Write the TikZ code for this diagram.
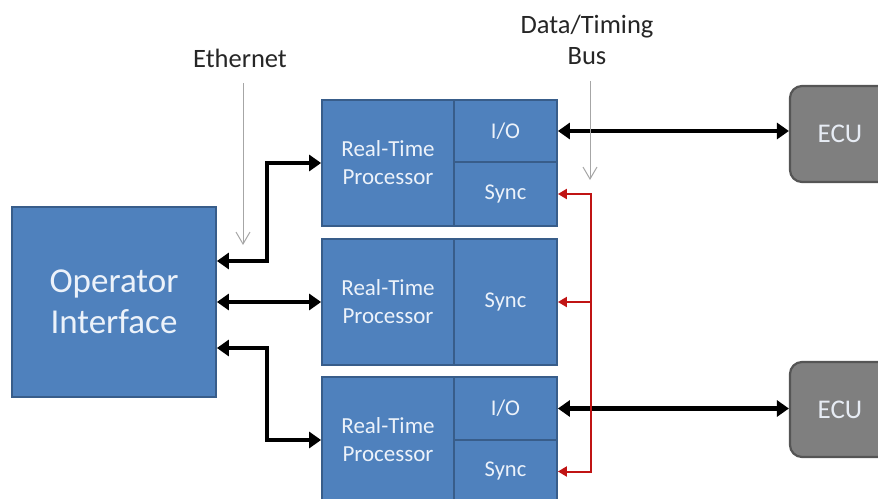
\documentclass[tikz,border=0pt]{standalone}
\usepackage{fontspec}
\setmainfont{Carlito}
\usetikzlibrary{arrows.meta,calc}
\definecolor{boxblue}{RGB}{79,129,189}
\definecolor{boxedge}{RGB}{56,93,138}
\definecolor{ecugray}{RGB}{127,127,127}
\definecolor{ecuedge}{RGB}{85,85,85}
\definecolor{busred}{RGB}{192,20,20}
\definecolor{lblgray}{RGB}{166,166,166}
\definecolor{txtlight}{RGB}{236,242,250}
\definecolor{lbltext}{RGB}{38,38,38}
\begin{document}
\begin{tikzpicture}[x=1pt,y=-1pt,
  bluebox/.style={draw=boxedge, fill=boxblue, line width=1.8pt, inner sep=0pt,
    text=txtlight, align=center},
  rtbox/.style={bluebox, minimum width=132pt, font=\fontsize{23}{28}\selectfont},
  subbox/.style={bluebox, minimum width=103pt, font=\fontsize{22.5}{26}\selectfont},
  ecubox/.style={draw=ecuedge, fill=ecugray, line width=2.2pt, rounded corners=12pt,
    minimum width=100pt, text=txtlight!95!gray, font=\fontsize{27}{30}\selectfont},
  lbl/.style={inner sep=0pt, text=lbltext, align=center, font=\fontsize{26.5}{31}\selectfont},
  tipblack/.tip={Triangle[length=12pt,width=16pt]},
  tipred/.tip={Triangle[length=9pt,width=10pt]},
  link/.style={line width=4.5pt, black, tipblack-tipblack},
  redline/.style={line width=2pt, busred},
  lblarrow/.style={draw=lblgray, line width=1pt, -{Straight Barb[length=12pt,width=14pt]}}
]
\useasboundingbox (0,0) rectangle (878,498);

% Operator interface
\node[bluebox, minimum width=204pt, minimum height=190pt,
      font=\fontsize{35}{41}\selectfont] (oi) at (114,302) {Operator\\Interface};

% Processor 1
\node[rtbox, minimum height=126pt] (p1rt) at (388,163) {Real-Time\\Processor};
\node[subbox, minimum height=62pt] (p1io) at (505.5,131) {I/O};
\node[subbox, minimum height=64pt] (p1sync) at (505.5,194) {Sync};
% Processor 2
\node[rtbox, minimum height=126pt] (p2rt) at (388,302) {Real-Time\\Processor};
\node[subbox, minimum height=126pt] (p2sync) at (505.5,302) {Sync};
% Processor 3
\node[rtbox, minimum height=126pt] (p3rt) at (388,440) {Real-Time\\Processor};
\node[subbox, minimum height=63pt] (p3io) at (505.5,408.5) {I/O};
\node[subbox, minimum height=63pt] (p3sync) at (505.5,471.5) {Sync};

% ECUs
\node[ecubox, minimum height=96pt] (ecu1) at (840,134) {ECU};
\node[ecubox, minimum height=95pt] (ecu2) at (840,409.5) {ECU};

% labels
\node[lbl, anchor=base] (eth) at (240,67) {Ethernet};
\node[lbl, anchor=north] (dtb) at (587,15) {Data/Timing\\Bus};

% junction coordinates
\coordinate (ej) at (267,0);
\coordinate (bj) at (591,0);
\coordinate (etip) at (243,245);
\coordinate (dtip) at (590,180);

% Ethernet links
\draw[link] ([yshift=41pt]oi.east) -- ([yshift=41pt]oi.east -| ej) |- (p1rt.west);
\draw[link] (oi.east) -- (p2rt.west);
\draw[link] ([yshift=-46pt]oi.east) -- ([yshift=-46pt]oi.east -| ej) |- (p3rt.west);

% I/O links
\draw[link] (p1io.east) -- (p1io.east -| ecu1.west);
\draw[link] (p3io.east) -- (p3io.east -| ecu2.west);

% red data/timing bus
\draw[redline, tipred-tipred]
  (p1sync.east) -- (p1sync.east -| bj) -- (p3sync.east -| bj) -- (p3sync.east);
\draw[redline, -tipred] (p2sync.east -| bj) -- (p2sync.east);

% label arrows
\draw[lblarrow] ([yshift=-16pt]eth.south -| etip) -- (etip);
\draw[lblarrow] ([yshift=-16pt]dtb.south -| dtip) -- (dtip);
\end{tikzpicture}
\end{document}
